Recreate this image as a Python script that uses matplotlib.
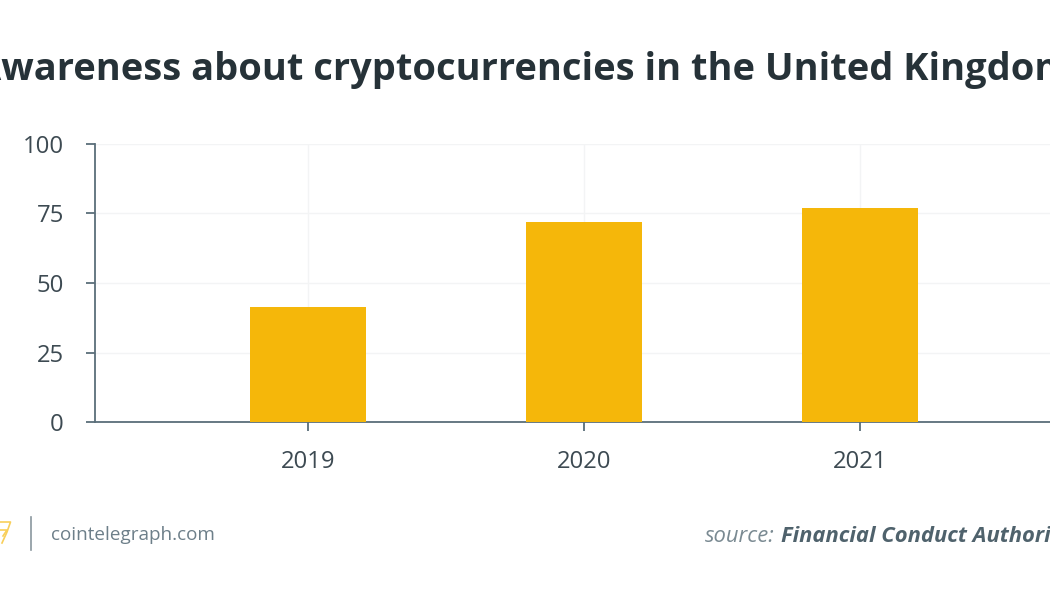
import matplotlib
matplotlib.use('Agg')
import matplotlib.pyplot as plt

years = ['2019', '2020', '2021']
awareness = [41.5, 72, 77]
y_ticks = [0, 25, 50, 75, 100]

plt.rcParams['font.family'] = ['Open Sans', 'DejaVu Sans']

fig = plt.figure(figsize=(10.5, 6), dpi=100)
# axes box from pixel positions: x 95..1050+, y 144..422
ax = fig.add_axes([95/1050, 1-422/600, (1135-95)/1050, (422-144)/600])

pos = [0, 1, 2]
ax.bar(pos, awareness, width=0.42, color='#f5b70a', zorder=3)
ax.set_xlim(-0.772, 2.996)
ax.set_ylim(0, 100)
ax.set_xticks(pos)
ax.set_xticklabels(years)
ax.set_yticks(y_ticks)

ax.grid(True, color='#f3f4f5', linewidth=1, zorder=0)
ax.set_axisbelow(True)
for s in ['top', 'right']:
    ax.spines[s].set_visible(False)
for s in ['left', 'bottom']:
    ax.spines[s].set_color('#5a6e7a')
    ax.spines[s].set_linewidth(1.3)
ax.tick_params(axis='both', color='#5a6e7a', length=6.5, width=1.3,
               labelcolor='#3d4a52', labelsize=17.2)
ax.tick_params(axis='x', pad=13.5)
ax.tick_params(axis='y', pad=16)

fig.text(523.5/1050, 1-70/600, 'Awareness about cryptocurrencies in the United Kingdom',
         ha='center', va='center', fontsize=27.4, fontweight='bold', color='#263238')


def px_line(xs, ys, **kw):
    fig.add_artist(plt.Line2D([x/1050 for x in xs], [1-y/600 for y in ys], **kw))


# footer
px_line([31, 31], [517, 550], color='#8a979e', linewidth=1.2)
# logo, mostly off the left edge
px_line([0, 10.5, 7, 2], [522, 522, 532, 543], color='#f8cf5a', linewidth=1.2)
px_line([0, 7, 3], [530, 530, 536], color='#f8cf5a', linewidth=1.2)
fig.text(51/1050, 1-534.5/600, 'cointelegraph.com', ha='left', va='center', fontsize=13.6, color='#6d7f89')
fig.text(705/1050, 1-536.5/600, 'source:', ha='left', va='center', fontsize=15.8,
         style='italic', color='#7a8a92')
fig.text(781/1050, 1-536.5/600, 'Financial Conduct Authority', ha='left', va='center', fontsize=15.8,
         style='italic', fontweight='bold', color='#4f626c')

fig.savefig('out.png', dpi=100)
